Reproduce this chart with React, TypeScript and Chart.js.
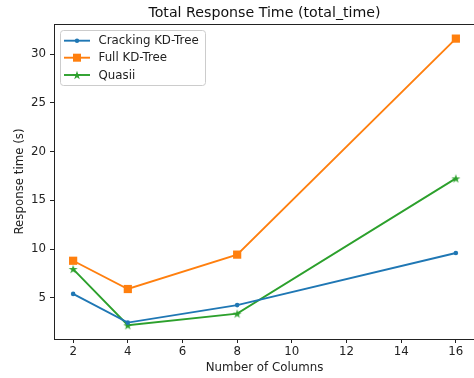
import React, { useEffect, useRef } from "react";
import { Chart, registerables } from "chart.js";

Chart.register(...registerables);

const title = "Total Response Time (total_time)";
const xTitle = "Number of Columns";
const yTitle = "Response time (s)";
const columns = [2, 4, 8, 16];
const crackingKD = [5.4, 2.45, 4.25, 9.6];
const fullKD = [8.8, 5.9, 9.43, 31.6];
const quasii = [7.95, 2.18, 3.38, 17.25];
const xTicks = [2, 4, 6, 8, 10, 12, 14, 16];
const yTicks = [5, 10, 15, 20, 25, 30];

const FONT = "'DejaVu Sans', sans-serif";
const TEXT = "#222";
const FS = 11.8;

function makeStar(color: string, size: number) {
  const c = document.createElement("canvas");
  c.width = size;
  c.height = size;
  const ctx = c.getContext("2d")!;
  const cx = size / 2, cy = size / 2 + 0.4;
  const R = size / 2 - 0.3, r = R * 0.382;
  ctx.beginPath();
  for (let i = 0; i < 10; i++) {
    const a = -Math.PI / 2 + (i * Math.PI) / 5;
    const rad = i % 2 === 0 ? R : r;
    const px = cx + rad * Math.cos(a), py = cy + rad * Math.sin(a);
    if (i === 0) ctx.moveTo(px, py); else ctx.lineTo(px, py);
  }
  ctx.closePath();
  ctx.fillStyle = color;
  ctx.fill();
  return c;
}

export default function App() {
  const ref = useRef<HTMLCanvasElement>(null);
  useEffect(() => {
    const star = makeStar("#2ca02c", 10);
    const toPts = (ys: number[]) => columns.map((x, i) => ({ x, y: ys[i] }));
    const series = [
      { label: "Cracking KD-Tree", data: toPts(crackingKD), color: "#1f77b4", style: "circle", radius: 2.3 },
      { label: "Full KD-Tree", data: toPts(fullKD), color: "#ff7f0e", style: "rect", radius: 5.8 },
      { label: "Quasii", data: toPts(quasii), color: "#2ca02c", style: star, radius: 5 },
    ];

    const decor = {
      id: "decor",
      afterDraw(chart: any) {
        const { ctx, chartArea: ca } = chart;
        ctx.save();
        ctx.strokeStyle = "#222";
        ctx.lineWidth = 1;
        ctx.beginPath();
        ctx.moveTo(ca.left, ca.top + 0.5);
        ctx.lineTo(ca.right, ca.top + 0.5);
        ctx.stroke();
        ctx.fillStyle = "#111";
        ctx.font = `14.2px ${FONT}`;
        ctx.textAlign = "center";
        ctx.textBaseline = "middle";
        ctx.fillText(title, 264.5, 13.5);
        ctx.font = `${FS}px ${FONT}`;
        ctx.fillStyle = TEXT;
        ctx.fillText(xTitle, 264.5, 368);
        ctx.save();
        ctx.translate(20, (ca.top + ca.bottom) / 2);
        ctx.rotate(-Math.PI / 2);
        ctx.fillText(yTitle, 0, 0);
        ctx.restore();
        // legend
        const bx = 60.5, by = 30.5, bw = 145, bh = 55;
        ctx.beginPath();
        if ((ctx as any).roundRect) (ctx as any).roundRect(bx, by, bw, bh, 3);
        else ctx.rect(bx, by, bw, bh);
        ctx.fillStyle = "rgba(255,255,255,0.8)";
        ctx.fill();
        ctx.strokeStyle = "#cccccc";
        ctx.lineWidth = 1;
        ctx.stroke();
        const rowsY = [40.7, 57.7, 75];
        series.forEach((s, i) => {
          const y = rowsY[i];
          ctx.strokeStyle = s.color;
          ctx.lineWidth = 1.9;
          ctx.beginPath();
          ctx.moveTo(64, y);
          ctx.lineTo(90, y);
          ctx.stroke();
          ctx.fillStyle = s.color;
          if (s.style === "circle") {
            ctx.beginPath();
            ctx.arc(77, y, 2.2, 0, Math.PI * 2);
            ctx.fill();
          } else if (s.style === "rect") {
            ctx.fillRect(73, y - 4, 8, 8);
          } else {
            ctx.drawImage(star, 72, y - 5, 10, 10);
          }
          ctx.fillStyle = TEXT;
          ctx.font = `${FS}px ${FONT}`;
          ctx.textAlign = "left";
          ctx.textBaseline = "middle";
          ctx.fillText(s.label, 98.5, y + 0.5);
        });
        ctx.restore();
      },
    };

    const chart = new Chart(ref.current!, {
      type: "line",
      data: {
        datasets: series.map((s) => ({
          label: s.label,
          data: s.data,
          borderColor: s.color,
          backgroundColor: s.color,
          borderWidth: 1.9,
          pointStyle: s.style as any,
          pointRadius: s.radius,
          pointBorderWidth: 0,
          pointBackgroundColor: s.color,
          tension: 0,
          fill: false,
        })),
      },
      options: {
        animation: false,
        responsive: false,
        maintainAspectRatio: false,
        layout: { autoPadding: false, padding: { top: 24, left: 0, right: 1, bottom: 0 } },
        plugins: { legend: { display: false }, title: { display: false }, tooltip: { enabled: false } },
        scales: {
          x: {
            type: "linear",
            min: 1.3,
            max: 16.7,
            afterBuildTicks: (s: any) => { s.ticks = xTicks.map((v) => ({ value: v })); },
            afterFit: (s: any) => { s.height = 39; s.paddingLeft = 0; s.paddingRight = 0; },
            grid: { drawOnChartArea: false, drawTicks: true, tickLength: 4, tickColor: "#222", lineWidth: 1 },
            border: { color: "#222", width: 1 },
            ticks: { color: TEXT, font: { family: FONT, size: FS }, padding: 2, maxRotation: 0, autoSkip: false },
          },
          y: {
            type: "linear",
            min: 0.77,
            max: 33.1,
            afterBuildTicks: (s: any) => { s.ticks = yTicks.map((v) => ({ value: v })); },
            afterFit: (s: any) => { s.width = 54; s.paddingTop = 0; s.paddingBottom = 0; },
            grid: { drawOnChartArea: false, drawTicks: true, tickLength: 4, tickColor: "#222", lineWidth: 1 },
            border: { color: "#222", width: 1 },
            ticks: { color: TEXT, font: { family: FONT, size: FS }, padding: 4 },
          },
        },
      },
      plugins: [decor],
    });
    return () => chart.destroy();
  }, []);

  return (
    <div style={{ position: "fixed", left: 0, top: 0, width: 474, height: 378, overflow: "hidden", background: "#fff" }}>
      <canvas ref={ref} width={476} height={378} style={{ width: 476, height: 378, display: "block" }} />
    </div>
  );
}
